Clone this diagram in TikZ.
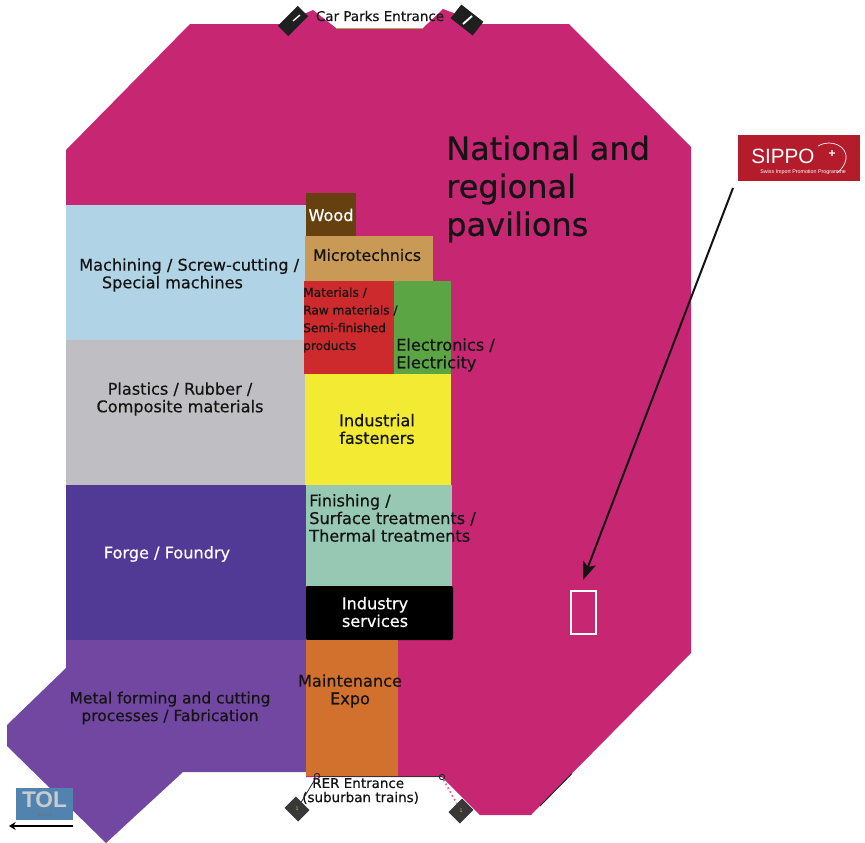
\documentclass[tikz,border=0pt]{standalone}
\usepackage{fontspec}
\usetikzlibrary{arrows.meta}
\setmainfont[FakeBold=0.45]{DejaVu Sans}
\newfontfamily\logofont{Liberation Sans}
\definecolor{cMag}{HTML}{C62672}
\definecolor{cBlue}{HTML}{B0D3E5}
\definecolor{cGrey}{HTML}{BFBEC2}
\definecolor{cIndigo}{HTML}{503A96}
\definecolor{cPurple}{HTML}{7247A1}
\definecolor{cWood}{HTML}{67400F}
\definecolor{cMicro}{HTML}{C89A56}
\definecolor{cRed}{HTML}{CC2A2C}
\definecolor{cGreen}{HTML}{5BA545}
\definecolor{cYellow}{HTML}{F2EA33}
\definecolor{cTeal}{HTML}{96C8B4}
\definecolor{cOrange}{HTML}{D2702D}
\definecolor{cSippo}{HTML}{B41C2C}
\definecolor{cTol}{HTML}{5183AE}
\definecolor{cTolText}{HTML}{C8CCD0}
\definecolor{cEdge}{HTML}{B5A45E}
\tikzset{
  lab/.style={align=center,inner sep=0pt,font=\fontsize{12.1}{13.2}\selectfont,text=black!92},
  lableft/.style={lab,align=left},
  smalllab/.style={font=\fontsize{10.1}{10.6}\selectfont},
  icon/.style={fill=black!88,draw=none,minimum width=21pt,minimum height=11pt,inner sep=0pt},
  dark/.style={icon,fill=black!78,minimum width=14.5pt,minimum height=12pt},
  ringmark/.style={circle,draw=black!85,line width=0.7pt,minimum size=4pt,inner sep=0pt},
}
\begin{document}
\begin{tikzpicture}[x=0.75pt,y=-0.75pt]
\useasboundingbox (0,0) rectangle (865,843);
% main hall
\fill[cMag] (190,24) -- (281,24) -- (313,10) -- (336,28) -- (423,28) -- (443,9) -- (483,24) -- (569,24) -- (691,147) -- (691,653) -- (531,815) -- (480,815) -- (442,777) -- (306,777) -- (306,205) -- (66,205) -- (66,150) -- cycle;
\draw[cEdge,line width=0.7pt] (336,28) -- (423,28);
\fill[cPurple] (66,640) -- (306,640) -- (306,772) -- (183,772) -- (106,843) -- (7,746) -- (7,725) -- (66,668) -- cycle;
\fill[cBlue] (66,205) rectangle (306,340);
\fill[cGrey] (66,340) rectangle (306,485);
\fill[cIndigo] (66,485) rectangle (306,640);
\fill[cWood] (306,193) rectangle (356,236);
\fill[cMicro] (305,236) rectangle (433,281);
\fill[cRed] (304,281) rectangle (394,374);
\fill[cGreen] (394,281) rectangle (451,374);
\fill[cYellow] (305,374) rectangle (451,485);
\fill[cTeal] (306,485) rectangle (452,586);
\fill[black,rounded corners=1.5pt] (306,586) rectangle (453,640);
\fill[cOrange] (306,640) rectangle (398,776);
\draw[black!80,line width=0.7pt] (317,776.5) -- (442,776.5);
\draw[black!85,line width=0.7pt] (540,806) -- (572,773.5);
\node[lableft,anchor=west] (machining) at (79,275) {Machining / Screw-cutting /\\\hspace*{17pt}Special machines};
\node[lab] (plastics) at (180,399) {Plastics / Rubber /\\Composite materials};
\node[lab,text=white] (forge) at (167,554) {Forge / Foundry};
\node[lab,font=\fontsize{11.6}{13.2}\selectfont] (metal) at (170,708) {Metal forming and cutting\\processes / Fabrication};
\node[lab,text=white] (wood) at (331,215) {Wood};
\node[lab,font=\fontsize{11.8}{13.2}\selectfont] (micro) at (367,255) {Microtechnics};
\node[lableft,anchor=west,font=\fontsize{9.1}{13.3}\selectfont] (materials) at (303,320) {Materials /\\Raw materials /\\Semi-finished\\products};
\node[lableft,anchor=west] (electronics) at (396,355) {Electronics /\\Electricity};
\node[lab] (fasteners) at (377,429) {Industrial\\fasteners};
\node[lableft,anchor=west] (finishing) at (309,518) {Finishing /\\Surface treatments /\\Thermal treatments};
\node[lab,text=white] (services) at (375,612) {Industry\\services};
\node[lab] (maintenance) at (350,691) {Maintenance\\Expo};
\node[lableft,anchor=west,font=\fontsize{24}{28.5}\selectfont] (national) at (446,189) {National and\\regional\\pavilions};
\node[lab,smalllab] (carparks) at (380,16) {Car Parks Entrance};
\node[lableft,smalllab,anchor=west] (rer) at (302,791) {\hspace*{7.5pt}RER Entrance\\(suburban trains)};
% entrance icons
\node[icon,rotate=45] (ent1) at (293,21) {};
\node[icon,rotate=-38,minimum height=13pt] (ent2) at (467,20) {};
\node[dark,rotate=-45] (ent3) at (297,809) {};
\node[dark,rotate=45] (ent4) at (461,811) {};
\draw[white,line width=1pt] (ent1.center) -- ++(7,-6);
\draw[white,line width=1.4pt] (463,24) -- (472,16);
\node[ringmark] (ring1) at (317,776) {};
\node[ringmark] (ring2) at (442,777) {};
\draw[black!85,line width=0.6pt] (ent3) -- (ring1);
\draw[cMag!70,line width=1.3pt,dotted] (ring2) -- (ent4);
\node[text=yellow!80!black,inner sep=0pt,font=\logofont\fontsize{4}{4}\selectfont] (mark3) at (ent3) {1};
\node[text=yellow!80!black,inner sep=0pt,font=\logofont\fontsize{4}{4}\selectfont] (mark4) at (ent4) {1};
% stand
\node[draw=white,line width=1.5pt,fill=none,minimum width=18.75pt,minimum height=32.25pt,inner sep=0pt,outer sep=0pt] (stand) at (583.5,612.5) {};
% SIPPO logo
\node[fill=cSippo,minimum width=91.5pt,minimum height=34.5pt,inner sep=0pt] (sippo) at (799,158) {};
\node[anchor=west,text=white,inner sep=0pt,font=\logofont\fontsize{15.5}{15}\selectfont] (sippot) at (751,156) {SIPPO};
\node[text=white,inner sep=0pt,font=\logofont\bfseries\fontsize{9}{9}\selectfont] (plus) at (832,154) {+};
\draw[white,line width=0.5pt] (818,146) .. controls (832,138) and (848,147) .. (846,159) .. controls (845,165) and (841,170) .. (837,173);
\node[anchor=west,text=white,inner sep=0pt,font=\logofont\fontsize{4}{4}\selectfont] (sipposub) at (760,172) {Swiss Import Promotion Programme};
\coordinate (arrowstart) at (733,188);
\coordinate (arrowtip) at (583,580);
\draw[-{Stealth[length=13.5pt,width=10pt,inset=3pt]},line width=1.5pt,black!92] (arrowstart) -- (arrowtip);
% TOL logo
\node[fill=cTol,minimum width=42.75pt,minimum height=24pt,inner sep=0pt] (tol) at (44.5,804) {};
\node[text=cTolText,inner sep=0pt,font=\logofont\bfseries\fontsize{17}{17}\selectfont] (tolt) at (44.5,800) {TOL};
\node[text=black!55,inner sep=0pt,font=\logofont\bfseries\fontsize{3.2}{3.5}\selectfont] (expo) at (45,815.5) {e x p o};
\coordinate (tolarrowstart) at (73,826);
\coordinate (tolarrowend) at (9,826);
\draw[-{Stealth[length=5pt,width=6pt]},line width=1.9pt,black] (tolarrowstart) -- (tolarrowend);
\end{tikzpicture}
\end{document}
